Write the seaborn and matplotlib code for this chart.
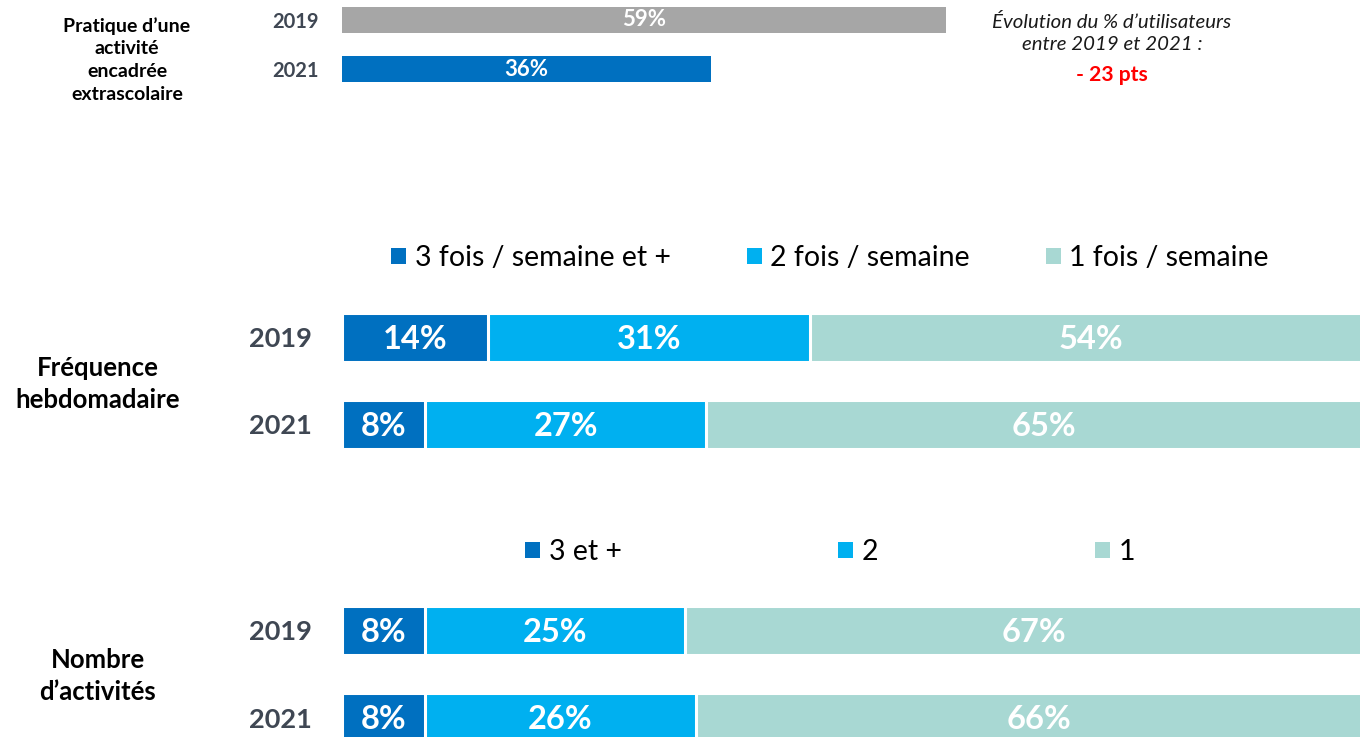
import matplotlib
matplotlib.use("Agg")
import matplotlib.pyplot as plt
from matplotlib.patches import Patch
import seaborn as sns
import pandas as pd
import numpy as np

# ---------------- data ----------------
years = ["2019", "2021"]
pratique = [59, 36]

freq_labels = ["3 fois / semaine et +", "2 fois / semaine", "1 fois / semaine"]
freq_3plus = [14, 8]
freq_2 = [31, 27]
freq_1 = [54, 65]

nb_labels = ["3 et +", "2", "1"]
nb_3plus = [8, 8]
nb_2 = [25, 26]
nb_1 = [67, 66]

evolution_title = "Évolution du % d\u2019utilisateurs\nentre 2019 et 2021 :"
evolution_value = "- 23 pts"

# ---------------- style ----------------
sns.set_theme(style="white")
FONT = ["Lato", "DejaVu Sans"]
plt.rcParams["font.family"] = FONT
plt.rcParams["text.color"] = "black"

C_DARK = "#0070C0"
C_LIGHT = "#00B0F0"
C_TEAL = "#A8D8D3"
C_GRAY = "#A6A6A6"
C_YEAR = "#3F4753"

W, H = 1360, 737
fig = plt.figure(figsize=(W / 100, H / 100), dpi=100)


def px_axes(left, top, width, height):
    return fig.add_axes([left / W, 1 - (top + height) / H, width / W, height / H])


def clean(ax):
    for s in ax.spines.values():
        s.set_visible(False)
    ax.set_xticks([])
    ax.set_xlabel("")
    ax.set_ylabel("")


# ---------------- top panel ----------------
ax0 = px_axes(342, 0.4, 1024, 98)
df0 = pd.DataFrame({"year": years, "val": pratique})
sns.barplot(data=df0, x="val", y="year", hue="year", palette=[C_GRAY, C_DARK],
            orient="h", width=0.55, saturation=1, legend=False, ax=ax0,
            edgecolor="none")
ax0.set_xlim(0, 100)
ax0.set_ylim(1.6, -0.4)
clean(ax0)
ax0.tick_params(axis="y", length=0, pad=17)
for t in ax0.get_yticklabels():
    t.set_fontsize(14.5)
    t.set_fontweight("bold")
    t.set_color(C_YEAR)
for i, v in enumerate(pratique):
    ax0.text(v / 2, i, f"{v}%", ha="center", va="center", color="white",
             fontsize=16, fontweight="bold")

fig.text(127 / W, 1 - 60 / H, "Pratique d\u2019une\nactivité\nencadrée\nextrascolaire",
         ha="center", va="center", fontsize=14, fontweight="bold",
         color="black", linespacing=1.42)

fig.text(1112 / W, 1 - 33 / H, evolution_title, ha="center", va="center",
         fontsize=14.7, fontstyle="italic", color="#1a1a1a", linespacing=1.4)
fig.text(1112 / W, 1 - 75 / H, evolution_value, ha="center", va="center",
         fontsize=15.2, fontweight="bold", color="#FF0000")


# ---------------- stacked panels ----------------
def stacked(ax, parts):
    p1, p2, p3 = [np.array(p) for p in parts]
    c1 = p1
    c2 = p1 + p2
    c3 = p1 + p2 + p3
    df = pd.DataFrame({"year": years, "c1": c1, "c2": c2, "c3": c3})
    for col, color in [("c3", C_TEAL), ("c2", C_LIGHT), ("c1", C_DARK)]:
        sns.barplot(data=df, x=col, y="year", orient="h", color=color,
                    width=0.563, saturation=1, ax=ax, edgecolor="white",
                    linewidth=2.2)
    ax.set_xlim(0, 100)
    ax.set_ylim(1.5, -0.5)
    clean(ax)
    ax.tick_params(axis="y", length=0, pad=22)
    for t in ax.get_yticklabels():
        t.set_fontsize(19.5)
        t.set_fontweight("bold")
        t.set_color(C_YEAR)
    for i in range(len(years)):
        starts = [0, c1[i], c2[i]]
        vals = [p1[i], p2[i], p3[i]]
        for s, v in zip(starts, vals):
            ax.text(s + v / 2, i + 0.02, f"{v}%", ha="center", va="center",
                    color="white", fontsize=23.5, fontweight="bold")


ax1 = px_axes(342, 294, 1040, 174)
stacked(ax1, [freq_3plus, freq_2, freq_1])

ax2 = px_axes(342, 587, 1040, 174)
stacked(ax2, [nb_3plus, nb_2, nb_1])

fig.text(98 / W, 1 - 384 / H, "Fréquence\nhebdomadaire", ha="center", va="center",
         fontsize=18.5, fontweight="bold", color="black", linespacing=1.4)
fig.text(98 / W, 1 - 676 / H, "Nombre\nd\u2019activités", ha="center", va="center",
         fontsize=18.5, fontweight="bold", color="black", linespacing=1.4)


def legend(labels, y, colspace):
    handles = [Patch(facecolor=c, edgecolor="none", label=l)
               for c, l in zip([C_DARK, C_LIGHT, C_TEAL], labels)]
    leg = fig.legend(handles=handles, loc="center", bbox_to_anchor=(830 / W, 1 - y / H),
                     ncol=3, frameon=False, fontsize=20.5, handlelength=0.53,
                     handleheight=0.53, handletextpad=0.3, columnspacing=colspace,
                     borderaxespad=0, borderpad=0)
    for t in leg.get_texts():
        t.set_color("black")


legend(freq_labels, 258, 2.67)
legend(nb_labels, 552, 7.6)

fig.savefig("out.png", dpi=100)
